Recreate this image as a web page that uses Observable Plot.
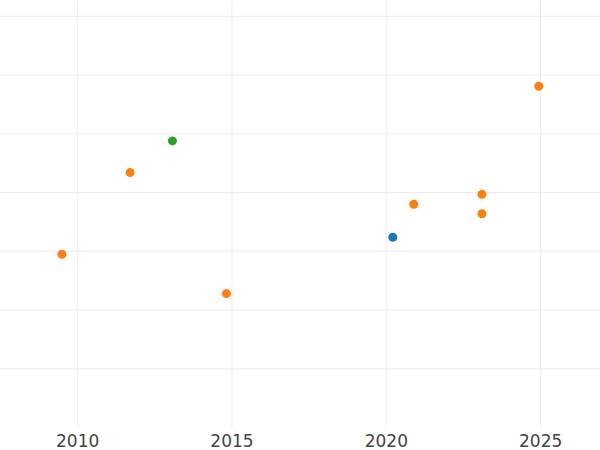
<!DOCTYPE html>
<html>
<head>
<meta charset="utf-8">
<script src="https://cdn.jsdelivr.net/npm/d3@7"></script>
<script src="https://cdn.jsdelivr.net/npm/@observablehq/plot@0.6"></script>
<style>
  html, body { margin: 0; padding: 0; background: #fff; }
  #chart svg { display: block; }
</style>
</head>
<body>
<div id="chart"></div>
<script>
const years = [2009.49, 2011.70, 2013.07, 2014.82, 2020.21, 2020.89, 2023.10, 2023.10, 2024.94];
const values = [2.95, 4.34, 4.88, 2.28, 3.24, 3.80, 3.97, 3.64, 5.81];
const groups = ["B", "B", "C", "B", "A", "B", "B", "B", "B"];
const groupNames = ["A", "B", "C"];
const groupColors = ["#1f77b4", "#ff7f0e", "#2ca02c"];
const xTicks = [2010, 2015, 2020, 2025];
const yTicks = [1, 2, 3, 4, 5, 6, 7];

const data = years.map((x, i) => ({x, y: values[i], g: groups[i]}));

const chart = Plot.plot({
  width: 600,
  height: 450,
  marginLeft: 0,
  marginRight: 0,
  marginTop: 0,
  marginBottom: 23,
  style: {fontFamily: "DejaVu Sans", fontSize: "17px", color: "#444", background: "#fff"},
  x: {domain: [2007.5, 2026.94], ticks: xTicks, tickFormat: d3.format("d"), tickSize: 0, tickPadding: 7, label: null},
  y: {domain: [0, 7.27], ticks: yTicks, axis: null, label: null},
  color: {domain: groupNames, range: groupColors},
  marks: [
    Plot.gridY(yTicks, {stroke: "#ebebeb", strokeOpacity: 1, strokeWidth: 1}),
    Plot.gridX(xTicks, {stroke: "#ebebeb", strokeOpacity: 1, strokeWidth: 1}),
    Plot.axisX(xTicks, {tickSize: 0, tickPadding: 7, tickFormat: d3.format("d"), fill: "#444", label: null}),
    Plot.dot(data, {x: "x", y: "y", fill: "g", r: 4.5, stroke: "none"})
  ]
});
document.getElementById("chart").appendChild(chart);
</script>
</body>
</html>
